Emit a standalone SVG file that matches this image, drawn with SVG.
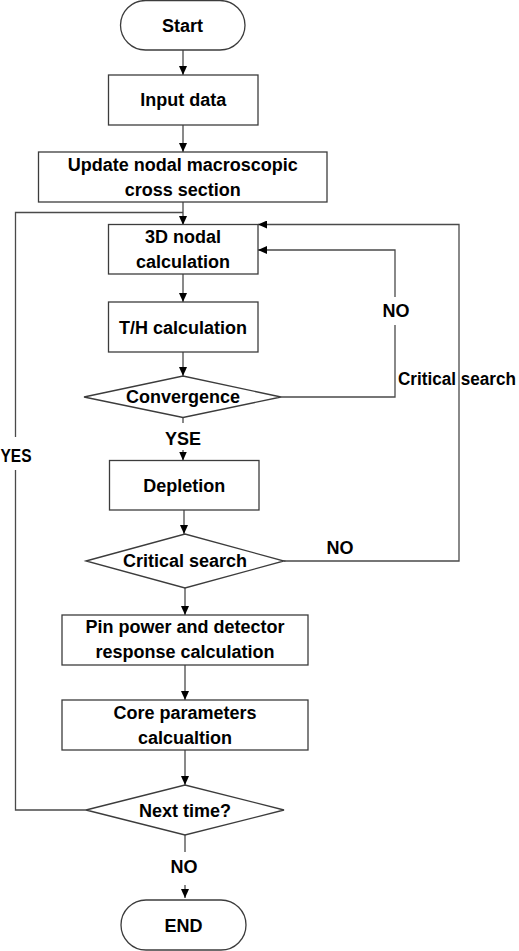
<svg xmlns="http://www.w3.org/2000/svg" width="519" height="951" viewBox="0 0 519 951">
<defs>
<style>
.box{fill:#fff;stroke:#3c3c3c;stroke-width:1.3}
.ln{fill:none;stroke:#4a4a4a;stroke-width:1.3}
text{font-family:"Liberation Sans",Arial,sans-serif;font-weight:bold;font-size:18px;fill:#000;text-anchor:middle}
</style>
<marker id="ah" markerUnits="userSpaceOnUse" markerWidth="9" markerHeight="8" refX="9" refY="4" orient="auto">
<path d="M0,0 L9,4 L0,8 z" fill="#000"/>
</marker>
</defs>
<rect width="519" height="951" fill="#fff"/>
<g id="connectors">
<path class="ln" d="M183,50 V75" marker-end="url(#ah)"/>
<path class="ln" d="M183,125 V152" marker-end="url(#ah)"/>
<path class="ln" d="M183,202 V225" marker-end="url(#ah)"/>
<path class="ln" d="M183,274 V302" marker-end="url(#ah)"/>
<path class="ln" d="M183,352 V376" marker-end="url(#ah)"/>
<path class="ln" d="M281,397 H395 V325 M395,297 V250 H258" marker-end="url(#ah)"/>
<path class="ln" d="M183,417.5 V423"/>
<path class="ln" d="M183,450 V460.5" marker-end="url(#ah)"/>
<path class="ln" d="M184,510 V534" marker-end="url(#ah)"/>
<path class="ln" d="M284,561 H459 V224.5 H258" marker-end="url(#ah)"/>
<path class="ln" d="M185,588 V615" marker-end="url(#ah)"/>
<path class="ln" d="M185,665 V700" marker-end="url(#ah)"/>
<path class="ln" d="M185,750 V785" marker-end="url(#ah)"/>
<path class="ln" d="M86,810 H15.5 V470 M15.5,437 V212.5 H183"/>
<path class="ln" d="M185,835 V852"/>
<path class="ln" d="M185,885 V898" marker-end="url(#ah)"/>
<text x="396" y="317">NO</text>
<text x="398" y="385" style="text-anchor:start" textLength="118" lengthAdjust="spacingAndGlyphs">Critical search</text>
<text x="183" y="445">YSE</text>
<text x="0.5" y="462" style="text-anchor:start" textLength="31" lengthAdjust="spacingAndGlyphs">YES</text>
<text x="340" y="554">NO</text>
<text x="184" y="872.5">NO</text>
</g>
<g id="start"><rect class="box" x="120.5" y="0.5" width="124.5" height="49.5" rx="25"/><text x="182.5" y="32.3">Start</text></g>
<g id="input"><rect class="box" x="108.5" y="75" width="149.5" height="50"/><text x="183.3" y="106">Input data</text></g>
<g id="update"><rect class="box" x="38.5" y="152" width="288.5" height="50"/><text x="182.7" y="171">Update nodal macroscopic</text><text x="182.7" y="196">cross section</text></g>
<g id="nodal"><rect class="box" x="108.5" y="224.5" width="149.5" height="49.5"/><text x="183" y="243.3">3D nodal</text><text x="183" y="268.3">calculation</text></g>
<g id="th"><rect class="box" x="108.5" y="302" width="149.5" height="50"/><text x="183" y="334">T/H calculation</text></g>
<g id="convergence"><polygon class="box" points="84,397 183,376 281,397 183,417.5"/><text x="183" y="403.3">Convergence</text></g>
<g id="depletion"><rect class="box" x="109.5" y="460.5" width="149.5" height="49.5"/><text x="184.3" y="492.3">Depletion</text></g>
<g id="critical"><polygon class="box" points="86,561 185,534 284,561 185,588"/><text x="185" y="567.3">Critical search</text></g>
<g id="pin"><rect class="box" x="62" y="615" width="246" height="50"/><text x="185" y="633.3">Pin power and detector</text><text x="185" y="658.3">response calculation</text></g>
<g id="core"><rect class="box" x="62" y="700" width="246" height="50"/><text x="185" y="719.3">Core parameters</text><text x="185" y="744">calcualtion</text></g>
<g id="next"><polygon class="box" points="86,810 185,785 284,810 185,835"/><text x="185" y="816.7">Next time?</text></g>
<g id="end"><rect class="box" x="121" y="900" width="125" height="50" rx="25"/><text x="183.5" y="931.7">END</text></g>
</svg>
